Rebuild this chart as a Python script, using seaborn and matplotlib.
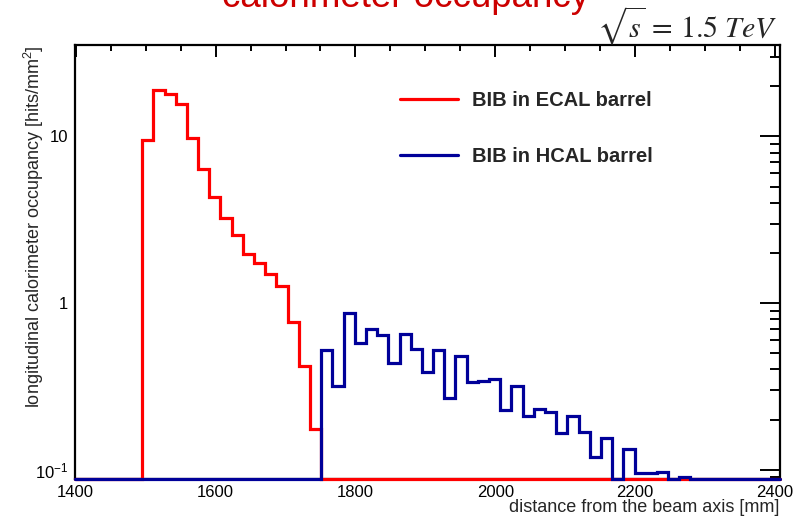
import numpy as np
import pandas as pd
import matplotlib
matplotlib.use("Agg")
import matplotlib.pyplot as plt
import seaborn as sns
from matplotlib.ticker import LogLocator, FixedLocator, MultipleLocator, NullFormatter, FixedFormatter

# ---------------- data ----------------
bin_low = 1399          # first bin edge [mm]
bin_width = 16          # [mm]
n_bins = 63

ecal_first_edge = 1495
ecal_values = [9.46, 18.9, 17.9, 15.7, 9.78, 6.38, 4.31, 3.26, 2.58, 1.98,
               1.75, 1.50, 1.26, 0.77, 0.42, 0.175]

hcal_first_edge = 1751
hcal_values = [0.523, 0.316, 0.868, 0.579, 0.696, 0.643, 0.436, 0.650, 0.528, 0.386,
               0.523, 0.269, 0.482, 0.334, 0.341, 0.352, 0.229, 0.316, 0.211, 0.231,
               0.221, 0.166, 0.209, 0.169, 0.120, 0.155, 0.0, 0.134, 0.095, 0.095,
               0.097, 0.0, 0.091]

series_labels = ["BIB in ECAL barrel", "BIB in HCAL barrel"]
series_colors = ["#FF0000", "#000099"]
x_major_ticks = [1400, 1600, 1800, 2000, 2200, 2400]
y_major_ticks = [0.1, 1, 10]
y_tick_labels = ["$10^{-1}$", "1", "10"]
title_text = "calorimeter occupancy"
energy_text = r"$\sqrt{s}\,=\,1.5\ TeV$"
x_label = "distance from the beam axis [mm]"
y_label = "longitudinal calorimeter occupancy [hits/mm$^{2}$]"

y_min, y_max = 0.088, 35.4
x_min, x_max = 1399, 2407

# ---------------- build histogram table ----------------
edges = [float(bin_low + bin_width * i) for i in range(n_bins + 1)]
centers = np.array(edges[:-1]) + bin_width / 2.0

def full_series(first_edge, vals):
    arr = np.zeros(n_bins)
    i0 = (first_edge - bin_low) // bin_width
    arr[i0:i0 + len(vals)] = vals
    arr[arr <= 0] = y_min   # empty bins drawn on the frame bottom (ROOT style)
    return arr

df = pd.DataFrame({
    "center": np.concatenate([centers, centers]),
    "value": np.concatenate([full_series(ecal_first_edge, ecal_values),
                             full_series(hcal_first_edge, hcal_values)]),
    "series": [series_labels[0]] * n_bins + [series_labels[1]] * n_bins,
})

# ---------------- style ----------------
sns.set_theme(style="white")
plt.rcParams["font.family"] = ["Liberation Sans", "DejaVu Sans"]
plt.rcParams["mathtext.fontset"] = "custom"
plt.rcParams["mathtext.rm"] = "Liberation Sans"
plt.rcParams["mathtext.it"] = "Liberation Sans:italic"
plt.rcParams["mathtext.bf"] = "Liberation Sans:bold"

fig = plt.figure(figsize=(7.95, 5.18), dpi=100)
W, H = 795, 518
ax = fig.add_axes([75 / W, 1 - 479 / H, (780 - 75) / W, (479 - 45) / H])

for lab, col in zip(series_labels, series_colors):
    sub = df[df["series"] == lab].reset_index(drop=True)
    sns.histplot(data=sub, x="center", weights="value", bins=edges,
                 element="step", fill=False, color=col, linewidth=2.3, ax=ax)

for ln in ax.lines:
    ln.set_zorder(3)
    ln.set_clip_on(False)
    ln.set_solid_joinstyle("miter")

ax.set_yscale("log")
ax.set_xlim(x_min, x_max)
ax.set_ylim(y_min, y_max)

# ticks
ax.xaxis.set_major_locator(FixedLocator(x_major_ticks))
ax.xaxis.set_minor_locator(MultipleLocator(50))
ax.yaxis.set_major_locator(FixedLocator(y_major_ticks))
ax.yaxis.set_major_formatter(FixedFormatter(y_tick_labels))
ax.yaxis.set_minor_locator(LogLocator(base=10, subs=np.arange(2, 10)))
ax.yaxis.set_minor_formatter(NullFormatter())

ax.tick_params(which="both", direction="in", top=True, right=True,
               color="black", width=1.4, labelsize=12, labelcolor="black")
ax.tick_params(axis="x", which="major", length=8.6, pad=4)
ax.tick_params(axis="x", which="minor", length=4.3)
ax.tick_params(axis="y", which="major", length=14.4, pad=5)
ax.tick_params(axis="y", which="minor", length=7.2)

for sp in ax.spines.values():
    sp.set_color("black")
    sp.set_linewidth(1.6)
    sp.set_visible(True)

ax.set_xlabel("")
ax.set_ylabel("")
ax.grid(False)

# axis titles
fig.text(779 / W, 1 - 508 / H, x_label, ha="right", va="center", fontsize=13)
fig.text(34 / W, 1 - 45 / H, y_label, ha="center", va="top", rotation=90, fontsize=13)

# legend
handles = ax.lines[:2]
leg = ax.legend(handles, series_labels, loc="upper left",
                bbox_to_anchor=(400 / W, 1 - 91 / H), bbox_transform=fig.transFigure,
                frameon=False, borderpad=0, borderaxespad=0,
                handlelength=2.9, handletextpad=0.7, labelspacing=1.85,
                prop={"weight": "bold", "size": 14.5})

# title (partly cut off at the top, as in the reference)
fig.text(406 / W, 1 - 7 / H, title_text, ha="center", va="baseline",
         color="#CC0000", fontsize=26.5)

# energy label
fig.text(777 / W, 1 - 38 / H, energy_text, ha="right", va="baseline",
         fontsize=21.5, math_fontfamily="stix")

fig.savefig("out.png", dpi=100)
